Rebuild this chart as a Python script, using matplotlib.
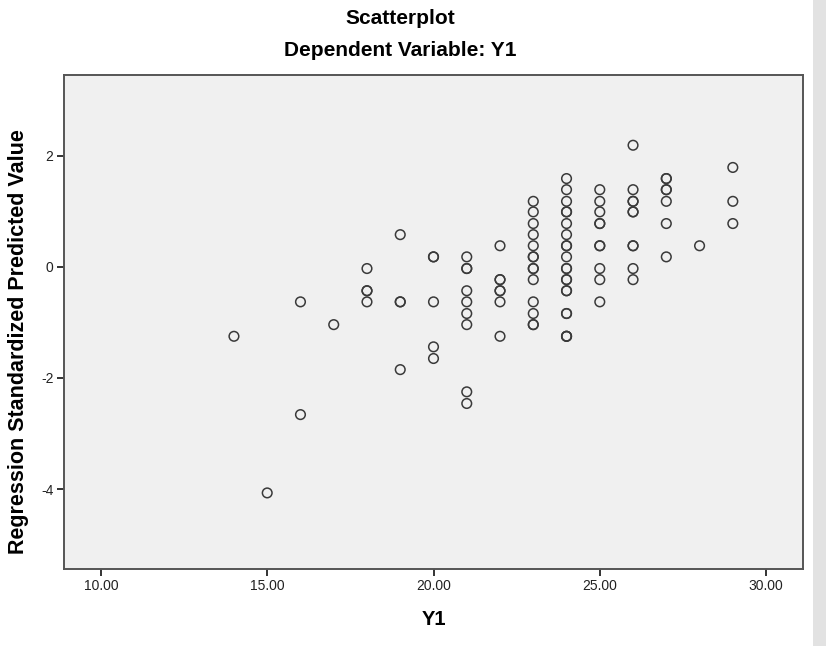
import matplotlib
matplotlib.use("Agg")
import matplotlib.pyplot as plt
from matplotlib.patches import Rectangle

plt.rcParams['font.family'] = ['Liberation Sans', 'DejaVu Sans']

# Data (Y1, regression standardized predicted value)
y1_values = [
    14,
    15,
    16, 16,
    17,
    18, 18, 18, 18,
    19, 19, 19, 19,
    20, 20, 20, 20, 20,
    21, 21, 21, 21, 21, 21, 21, 21, 21,
    22, 22, 22, 22, 22, 22, 22,
    23, 23, 23, 23, 23, 23, 23, 23, 23, 23, 23, 23, 23, 23,
    24, 24, 24, 24, 24, 24, 24, 24, 24, 24, 24, 24, 24, 24, 24, 24, 24, 24, 24, 24, 24,
    25, 25, 25, 25, 25, 25, 25, 25, 25, 25,
    26, 26, 26, 26, 26, 26, 26, 26, 26, 26,
    27, 27, 27, 27, 27, 27, 27,
    28,
    29, 29, 29,
]
predicted_values = [
    -1.25,
    -4.07,
    -0.63, -2.66,
    -1.04,
    -0.03, -0.43, -0.43, -0.63,
    0.58, -0.63, -0.63, -1.85,
    0.18, 0.18, -0.63, -1.44, -1.65,
    0.18, -0.03, -0.03, -0.43, -0.63, -0.84, -1.04, -2.25, -2.46,
    0.38, -0.23, -0.23, -0.43, -0.43, -0.63, -1.25,
    1.18, 0.99, 0.78, 0.58, 0.38, 0.18, 0.18, -0.03, -0.03, -0.23, -0.63, -0.84, -1.04, -1.04,
    1.59, 1.39, 1.18, 0.99, 0.99, 0.78, 0.58, 0.38, 0.38, 0.18, -0.03, -0.03,
    -0.23, -0.23, -0.43, -0.43, -0.84, -0.84, -1.25, -1.25, -1.25,
    1.39, 1.18, 0.99, 0.78, 0.78, 0.38, 0.38, -0.03, -0.23, -0.63,
    2.19, 1.39, 1.18, 1.18, 0.99, 0.99, 0.38, 0.38, -0.03, -0.23,
    1.59, 1.59, 1.39, 1.39, 1.18, 0.78, 0.18,
    0.38,
    1.79, 1.18, 0.78,
]
x_ticks = [10, 15, 20, 25, 30]
x_tick_labels = ["10.00", "15.00", "20.00", "25.00", "30.00"]
y_ticks = [-4, -2, 0, 2]
y_tick_labels = ["-4", "-2", "0", "2"]

fig = plt.figure(figsize=(8.26, 6.46), dpi=100)
fig.patch.set_facecolor('white')

# light grey band at the right edge (scan artefact in the reference)
fig.patches.append(Rectangle((813 / 826, 0), 13 / 826, 1, transform=fig.transFigure,
                             facecolor='#e2e2e2', edgecolor='none', zorder=0))

ax = fig.add_axes([64 / 826, 1 - 569 / 646, (803 - 64) / 826, (569 - 74.7) / 646])
ax.set_facecolor('#f0f0f0')

ax.scatter(y1_values, predicted_values, s=48, facecolors='none',
           edgecolors='#3a3a3a', linewidths=1.1, zorder=3)

ax.set_xlim(8.89, 31.11)
ax.set_ylim(-5.44, 3.46)
ax.set_xticks(x_ticks)
ax.set_xticklabels(x_tick_labels)
ax.set_yticks(y_ticks)
ax.set_yticklabels(y_tick_labels)

for side in ['top', 'right', 'left', 'bottom']:
    ax.spines[side].set_color('#555555')
    ax.spines[side].set_linewidth(1.4)

ax.tick_params(axis='both', direction='out', length=5, width=1.4, color='#333333',
               labelsize=10, labelcolor='#222222', pad=2.5)

ax.set_xlabel("Y1", fontsize=14.5, fontweight='bold', labelpad=12)
ax.set_ylabel("Regression Standardized Predicted Value", fontsize=15.5,
              fontweight='bold', labelpad=0)
ax.yaxis.set_label_coords(-(64 - 29) / (803 - 64), (569 - 342) / (569 - 74.7))

fig.text(400 / 826, 1 - 19 / 646, "Scatterplot", ha='center', va='center',
         fontsize=15, fontweight='bold')
fig.text(400 / 826, 1 - 50 / 646, "Dependent Variable: Y1", ha='center', va='center',
         fontsize=15, fontweight='bold')

fig.savefig("out.png", dpi=100)
